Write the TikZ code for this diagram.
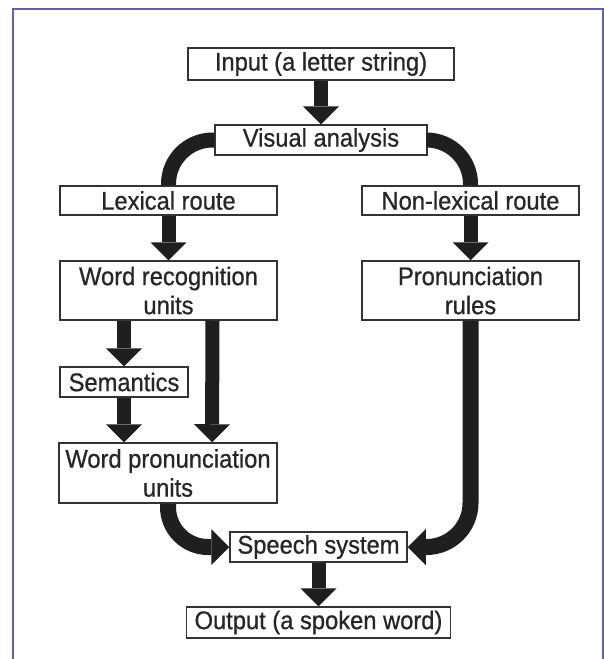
\documentclass[tikz,border=0pt]{standalone}
\usepackage{fontspec}
\setmainfont{Liberation Sans}[FakeStretch=0.93, FakeBold=0.7]
\usetikzlibrary{arrows.meta}
\definecolor{framecol}{RGB}{96,96,178}

\begin{document}
\begin{tikzpicture}[x=1pt, y=-1pt,
stage/.style={draw=black!80, fill=white, line width=1.5pt, inner sep=0pt, align=center, text=black!85, font=\fontsize{25.5}{29}\selectfont},
flow/.style={line width=14pt, draw=black!88, -{Triangle[width=36pt, length=18pt, line width=0pt]}},
route/.style={line width=15pt, draw=black!88}]
\useasboundingbox (0,0) rectangle (604,659);
\draw [framecol, line width=2pt] (13,659) -- (13,9) -- (603,9) -- (603,659);

\node [stage, minimum width=266pt, minimum height=32pt] (in) at (321,64) {Input (a letter string)};
\node [stage, minimum width=212pt, minimum height=30pt] (va) at (321,140) {Visual analysis};
\node [stage, minimum width=217pt, minimum height=29pt] (lex) at (168.5,200.5) {Lexical route};
\node [stage, minimum width=217pt, minimum height=29pt] (nlex) at (470.5,200.5) {Non-lexical route};
\node [stage, minimum width=217pt, minimum height=59pt] (wru) at (168.5,290.5) {Word recognition\\units};
\node [stage, minimum width=217pt, minimum height=59pt] (pr) at (470.5,290.5) {Pronunciation\\rules};
\node [stage, minimum width=128pt, minimum height=30pt] (sem) at (124,382) {Semantics};
\node [stage, minimum width=218pt, minimum height=60pt] (wpu) at (168,473) {Word pronunciation\\units};
\node [stage, minimum width=177pt, minimum height=30pt] (ss) at (318.5,547) {Speech system};
\node [stage, minimum width=264pt, minimum height=31pt] (out) at (318.5,622.5) {Output (a spoken word)};

% the two routes
\draw [flow] (in) -- (va);
\draw [route, rounded corners=44pt] (va.west) -| (lex.north);
\draw [route, rounded corners=44pt] (va.east) -| (nlex.north);
\draw [flow] (lex) -- (wru);
\draw [flow] (nlex) -- (pr);
\draw [flow] (sem.north |- wru.south) -- (sem.north);
\draw [flow] (sem.south) -- (sem.south |- wpu.north);
\draw [flow] ([xshift=44pt]wru.south) -- ([xshift=44pt]wpu.north);
\draw [flow, line width=16pt, rounded corners=40pt] (wpu.south) |- (ss.west);
\draw [flow, line width=16pt, rounded corners=44pt] (pr.south) |- (ss.east);
\draw [flow] (ss) -- (out);
\end{tikzpicture}
\end{document}
